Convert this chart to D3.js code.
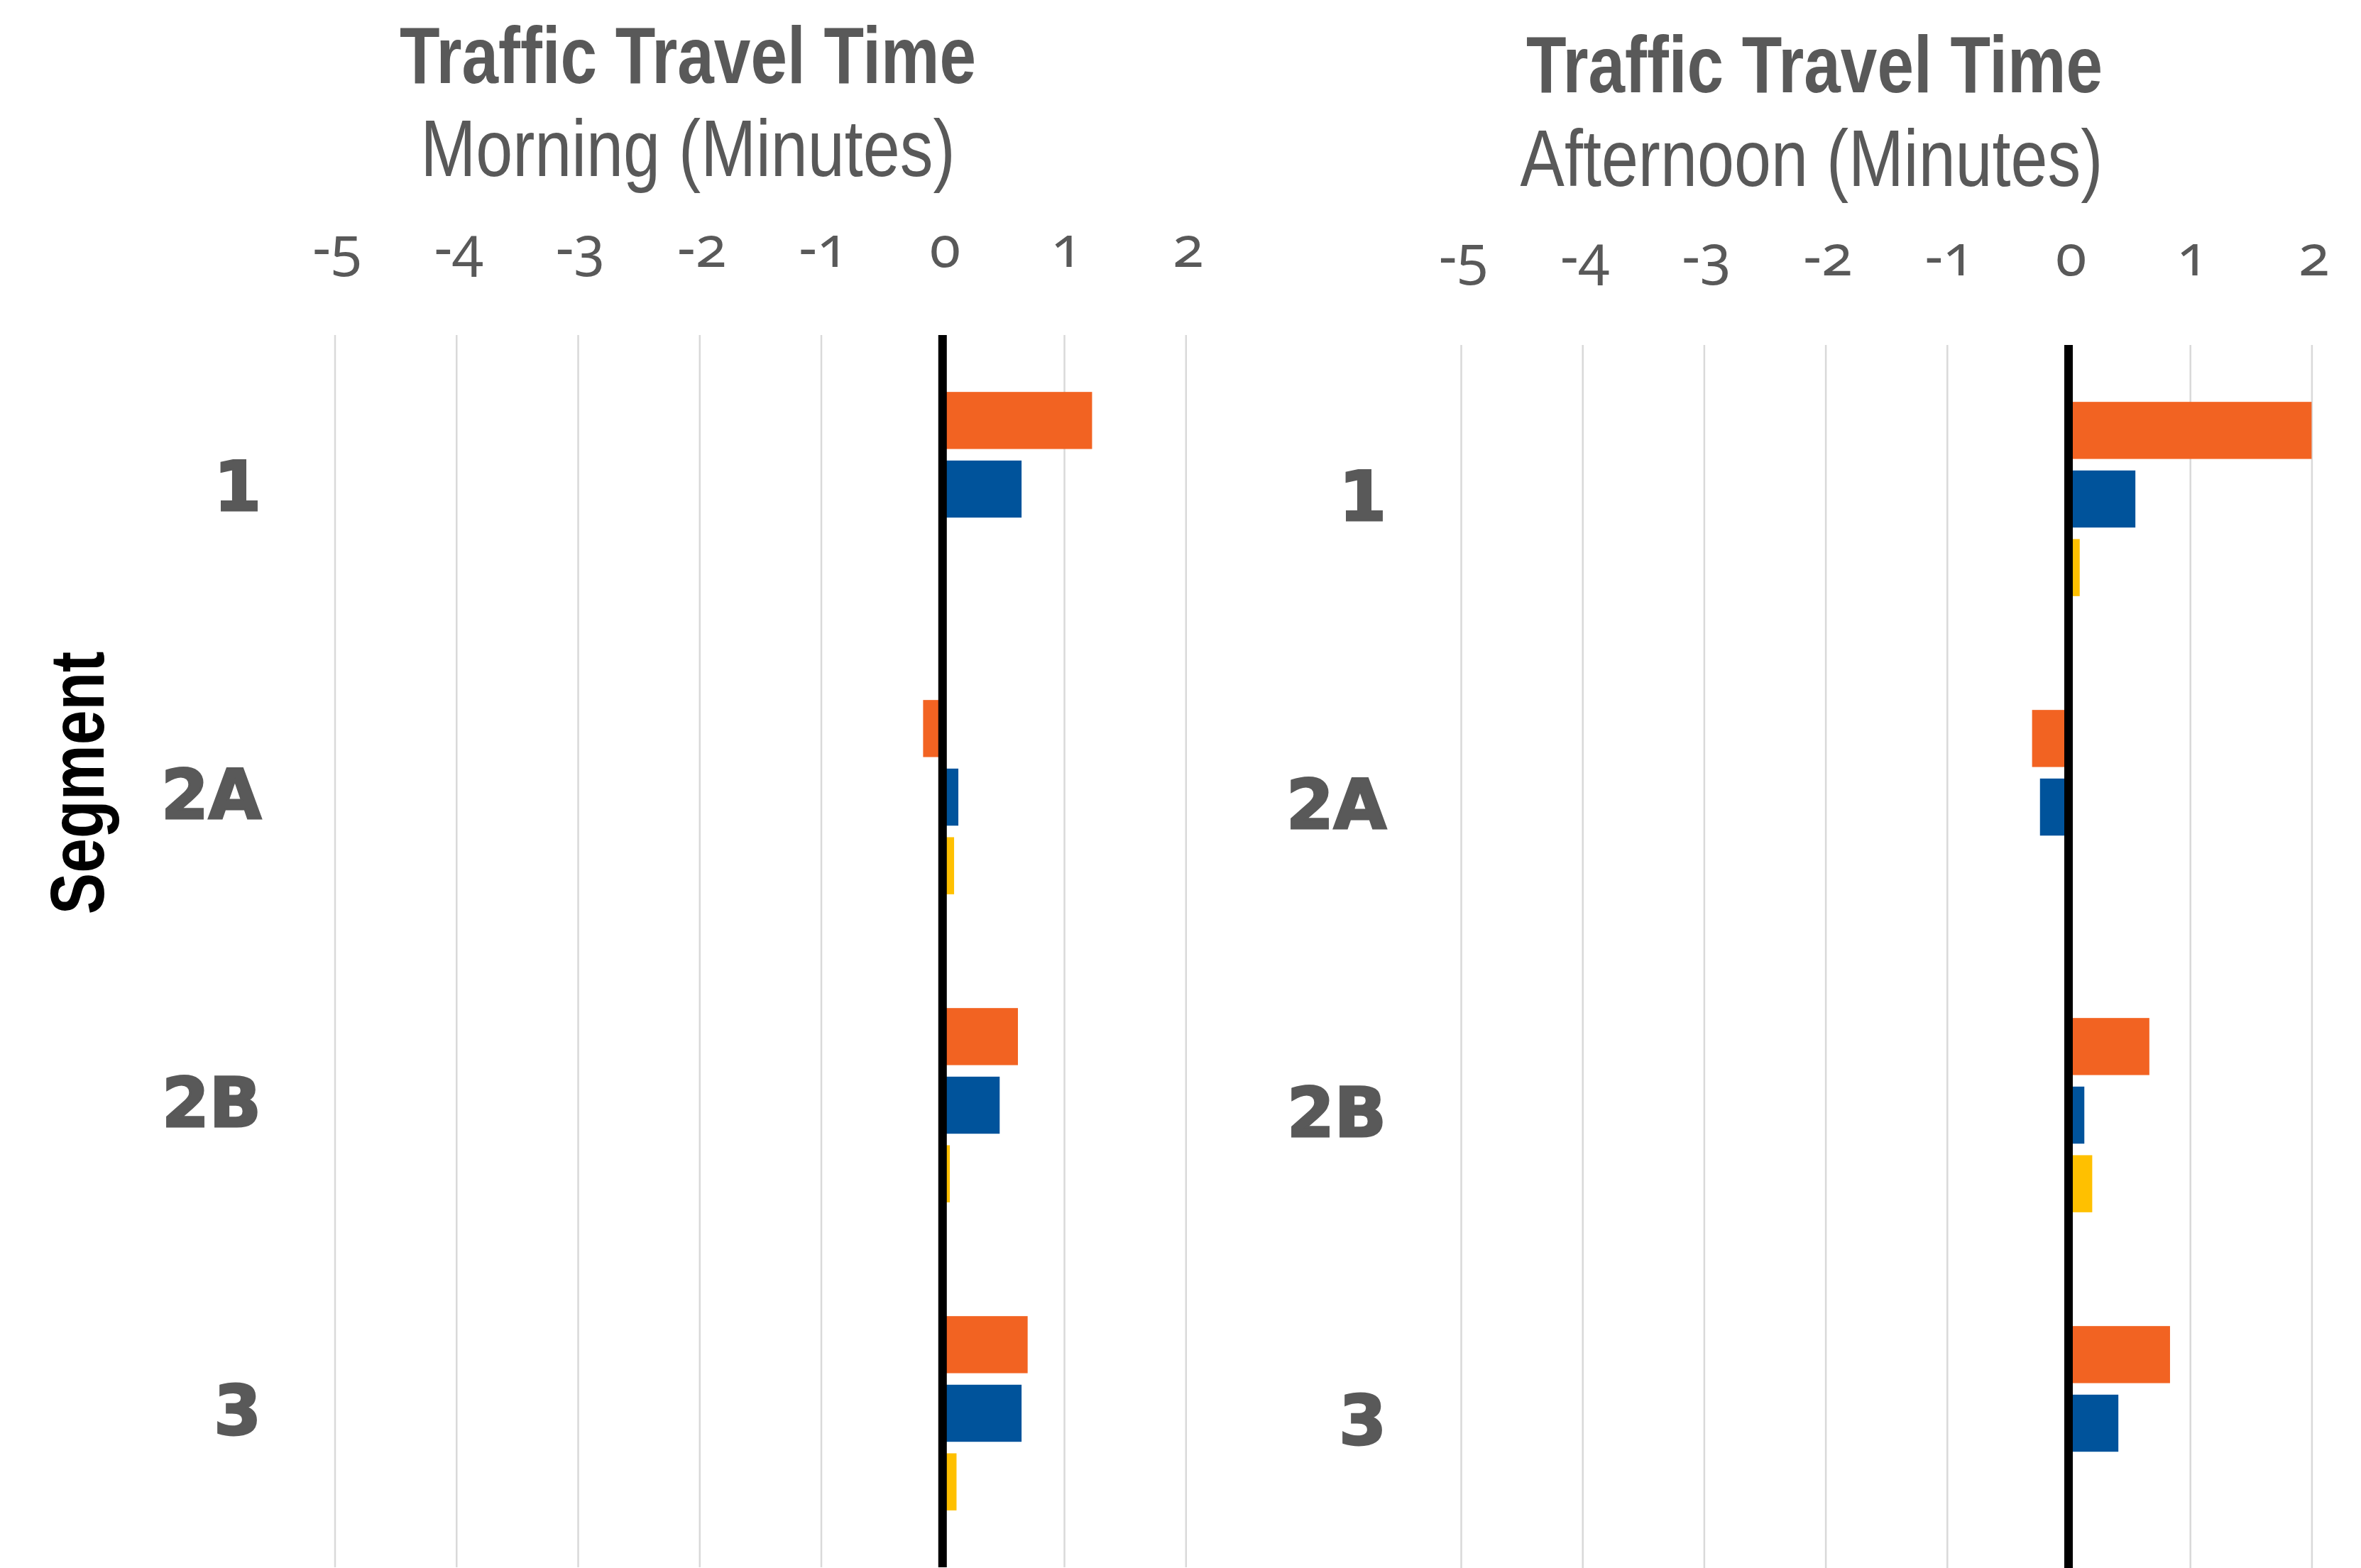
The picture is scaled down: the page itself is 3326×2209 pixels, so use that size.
<!DOCTYPE html>
<html>
<head>
<meta charset="utf-8">
<script src="https://cdn.jsdelivr.net/npm/d3@7/dist/d3.min.js"></script>
<style>
  html, body { margin: 0; padding: 0; background: #ffffff; }
  svg { display: block; }
</style>
</head>
<body>
<svg id="chart" width="3326" height="2209"></svg>
<script>
// ---- data ----
const categories = ["1", "2A", "2B", "3"];
const seriesNames = ["Series 1", "Series 2", "Series 3"];
const seriesColors = ["#F26322", "#00539B", "#FFC000"];
const tickValues = [-5, -4, -3, -2, -1, 0, 1, 2];

const morningS1 = [1.23, -0.16, 0.62, 0.70];
const morningS2 = [0.65, 0.13, 0.47, 0.65];
const morningS3 = [0.00, 0.095, 0.06, 0.115];

const afternoonS1 = [2.00, -0.30, 0.665, 0.835];
const afternoonS2 = [0.55, -0.235, 0.13, 0.41];
const afternoonS3 = [0.092, 0.00, 0.195, 0.00];

const panels = [
  { title: "Traffic Travel Time", subtitle: "Morning (Minutes)",
    series: [morningS1, morningS2, morningS3],
    x0: 471.5, x1: 1670.3, y0: 472, y1: 2208,
    titleX: 969, titleY: 117, subX: 969, subY: 248, tickY: 376, labelX: 368 },
  { title: "Traffic Travel Time", subtitle: "Afternoon (Minutes)",
    series: [afternoonS1, afternoonS2, afternoonS3],
    x0: 2058, x1: 3256.4, y0: 486, y1: 2222,
    titleX: 2556, titleY: 130, subX: 2552, subY: 262, tickY: 388, labelX: 1953 }
];

const svg = d3.select("#chart");
const grey = "#595959";

panels.forEach(p => {
  const g = svg.append("g");
  const x = d3.scaleLinear().domain([-5, 2]).range([p.x0, p.x1]);
  const y = d3.scaleBand().domain(categories).range([p.y0, p.y1])
    .paddingInner(0.332).paddingOuter(0.166);
  const ys = d3.scaleBand().domain(seriesNames).range([0, y.bandwidth()])
    .paddingInner(0.168).paddingOuter(0.084);

  // gridlines
  const grid = g.append("g").attr("transform", `translate(0,${p.y0})`)
    .call(d3.axisBottom(x).tickValues(tickValues.filter(v => v !== 0))
      .tickSize(p.y1 - p.y0).tickFormat(""));
  grid.select(".domain").remove();
  grid.selectAll("line").attr("stroke", "#d9d9d9").attr("stroke-width", 2.5);

  // tick labels
  const ax = g.append("g").attr("transform", `translate(0,${p.tickY})`)
    .call(d3.axisTop(x).tickValues(tickValues).tickSize(0).tickPadding(0)
      .tickFormat(d => (d < 0 ? "-" + Math.abs(d) : String(d))));
  ax.select(".domain").remove();
  ax.selectAll("text")
    .attr("fill", grey)
    .attr("font-family", "'Noto Sans', sans-serif")
    .attr("font-size", 80)
    .style("font-variant-numeric", "oldstyle-nums")
    .attr("dx", 3);

  // bars
  p.series.forEach((vals, si) => {
    g.append("g").selectAll("rect")
      .data(categories.map((c, i) => ({ c, v: vals[i] })))
      .join("rect")
      .attr("x", d => x(Math.min(0, d.v)))
      .attr("width", d => Math.abs(x(d.v) - x(0)))
      .attr("y", d => y(d.c) + ys(seriesNames[si]))
      .attr("height", ys.bandwidth())
      .attr("fill", seriesColors[si]);
  });

  // zero line
  g.append("line")
    .attr("x1", x(0)).attr("x2", x(0))
    .attr("y1", p.y0).attr("y2", p.y1)
    .attr("stroke", "#000").attr("stroke-width", 12);

  // category labels
  g.append("g").selectAll("text")
    .data(categories).join("text")
    .attr("x", p.labelX)
    .attr("y", d => y(d) + y.bandwidth() / 2 + 30)
    .attr("text-anchor", "end")
    .attr("font-family", "'DejaVu Sans', sans-serif")
    .attr("font-weight", "bold")
    .attr("font-size", 96)
    .attr("fill", grey)
    .attr("stroke", grey).attr("stroke-width", 3)
    .text(d => d);

  // titles
  g.append("text")
    .attr("transform", `translate(${p.titleX},${p.titleY}) scale(0.82,1)`)
    .attr("text-anchor", "middle")
    .attr("font-family", "'Liberation Sans', Arial, sans-serif")
    .attr("font-weight", "bold")
    .attr("font-size", 113)
    .attr("fill", grey)
    .text(p.title);
  g.append("text")
    .attr("transform", `translate(${p.subX},${p.subY}) scale(0.82,1)`)
    .attr("text-anchor", "middle")
    .attr("font-family", "'Liberation Sans', Arial, sans-serif")
    .attr("font-size", 114)
    .attr("fill", grey)
    .text(p.subtitle);
});

// y axis title
svg.append("text")
  .attr("transform", "translate(146,1103) rotate(-90) scale(0.82,1)")
  .attr("text-anchor", "middle")
  .attr("font-family", "'Liberation Sans', Arial, sans-serif")
  .attr("font-weight", "bold")
  .attr("font-size", 107)
  .attr("fill", "#000")
  .text("Segment");
</script>
</body>
</html>
